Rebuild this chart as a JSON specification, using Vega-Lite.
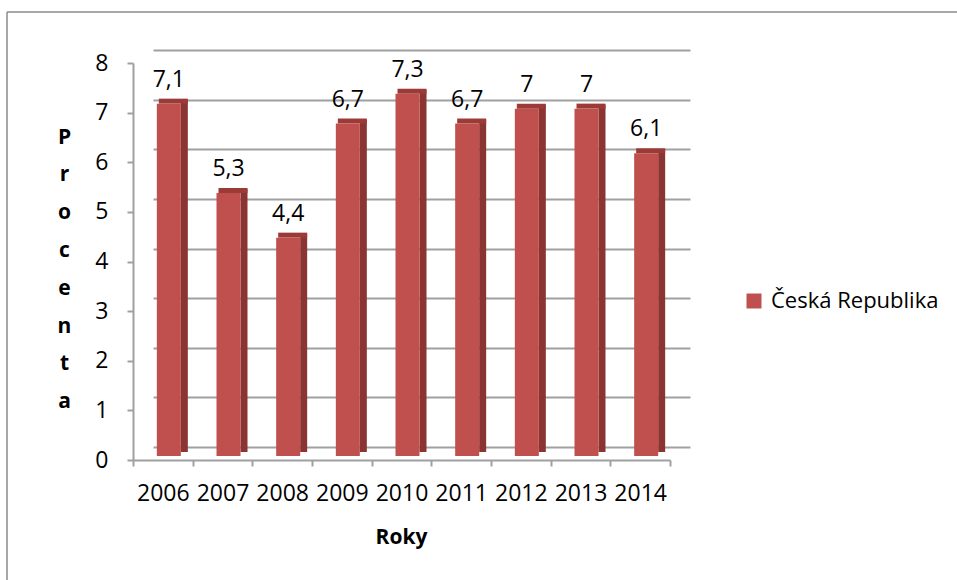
{
  "$schema": "https://vega.github.io/schema/vega-lite/v6.json",
  "width": 950,
  "height": 568,
  "autosize": {"type": "none"},
  "padding": {"left": 7, "top": 12, "right": 0, "bottom": 0},
  "background": "white",
  "config": {
    "view": {"stroke": "#8c8c8c", "strokeWidth": 1.5, "strokeDash": [950, 1518, 568, 0]},
    "font": "Open Sans",
    "locale": {"number": {"decimal": ",", "thousands": "\u00a0", "grouping": [3], "currency": ["", " Kč"]}},
    "axis": {
      "labelFont": "Open Sans", "titleFont": "Open Sans",
      "labelColor": "#000000", "titleColor": "#000000",
      "domainColor": "#a0a0a0", "tickColor": "#a0a0a0",
      "domainWidth": 2, "tickWidth": 2,
      "gridColor": "#a0a0a0", "gridWidth": 2
    }
  },
  "data": {
    "values": [
      {"year": "2006", "value": 7.1, "series": "Česká Republika"},
      {"year": "2007", "value": 5.3, "series": "Česká Republika"},
      {"year": "2008", "value": 4.4, "series": "Česká Republika"},
      {"year": "2009", "value": 6.7, "series": "Česká Republika"},
      {"year": "2010", "value": 7.3, "series": "Česká Republika"},
      {"year": "2011", "value": 6.7, "series": "Česká Republika"},
      {"year": "2012", "value": 7, "series": "Česká Republika"},
      {"year": "2013", "value": 7, "series": "Česká Republika"},
      {"year": "2014", "value": 6.1, "series": "Česká Republika"}
    ]
  },
  "resolve": {"scale": {"x": "independent", "y": "independent"}},
  "layer": [
    {
      "mark": {"type": "point", "opacity": 0},
      "encoding": {
        "x": {"field": "year", "type": "nominal", "scale": {"range": [146, 683], "paddingInner": 0, "paddingOuter": 0}, "axis": null},
        "y": {
          "field": "value", "type": "quantitative",
          "scale": {"domain": [0, 8], "range": [435, 38], "nice": false},
          "axis": {"orient": "left", "grid": true, "values": [0, 1, 2, 3, 4, 5, 6, 7, 8], "labels": false, "ticks": false, "domain": false, "title": null}
        }
      }
    },
    {
      "encoding": {
        "x": {
          "field": "year", "type": "nominal",
          "scale": {"range": [126, 663], "paddingInner": 0, "paddingOuter": 0},
          "axis": {
            "orient": "bottom", "offset": -120, "tickBand": "extent", "tickSize": 6,
            "labelPadding": 27, "labelBaseline": "middle", "labelFontSize": 23, "labelAngle": 0,
            "title": "Roky", "titleX": 394, "titleY": 77, "titleBaseline": "middle", "titleAlign": "center",
            "titleFontSize": 21, "titleFontWeight": "bold", "grid": false
          }
        },
        "y": {
          "field": "value", "type": "quantitative",
          "scale": {"domain": [0, 8], "range": [448, 51], "nice": false},
          "axis": {
            "orient": "left", "offset": -126, "values": [0, 1, 2, 3, 4, 5, 6, 7, 8], "grid": false,
            "tickSize": 6, "labelPadding": 19, "labelFontSize": 23, "labelBaseline": "middle",
            "title": ["P", "r", "o", "c", "e", "n", "t", "a"], "titleAngle": 0, "titleX": -69, "titleY": 125,
            "titleAlign": "center", "titleBaseline": "middle", "titleFontSize": 21, "titleFontWeight": "bold",
            "titleLineHeight": 37.8
          }
        }
      },
      "layer": [
        {
          "mark": {"type": "bar", "width": 7, "xOffset": 21.5, "yOffset": -8, "y2Offset": -7, "color": "#8b3532"}
        },
        {
          "mark": {"type": "bar", "width": 29, "xOffset": 10.5, "yOffset": -9, "y2Offset": -4, "color": "#9c3a37"},
          "encoding": {"y2": {"field": "value"}}
        },
        {
          "mark": {"type": "bar", "width": 24, "xOffset": 6, "yOffset": -4, "y2Offset": -4},
          "encoding": {
            "color": {
              "field": "series", "type": "nominal",
              "scale": {"range": ["#C0504D"]},
              "legend": {
                "orient": "none", "legendX": 736, "legendY": 278, "title": null,
                "symbolType": "square", "symbolSize": 225, "symbolStrokeWidth": 0,
                "labelFontSize": 22, "labelFont": "Open Sans", "labelColor": "#000000",
                "labelLimit": 400, "padding": 0, "labelOffset": 6
              }
            }
          }
        },
        {
          "mark": {"type": "text", "fontSize": 23, "font": "Open Sans", "color": "#000000", "baseline": "alphabetic", "align": "center", "dy": -21, "xOffset": 6},
          "encoding": {"text": {"field": "value", "type": "quantitative", "format": ".1~f"}}
        }
      ]
    }
  ]
}
